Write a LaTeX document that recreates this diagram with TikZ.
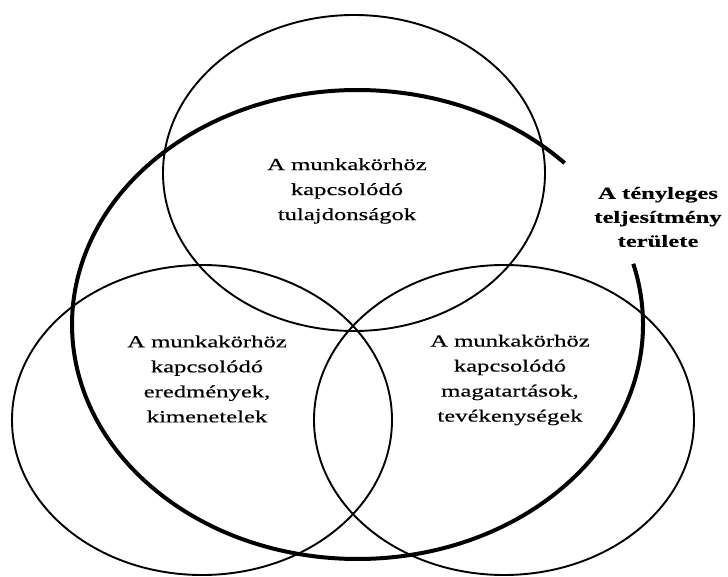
\documentclass[tikz,border=0pt]{standalone}
\usepackage{fontspec}
\setmainfont{Liberation Serif}
\newfontfamily\lblfont[FakeStretch=1.45,FakeBold=0.5]{Liberation Serif}
\newfontfamily\lblbold[FakeStretch=1.45,FakeBold=0.4]{Liberation Serif Bold}
\tikzset{
  thinring/.style={line width=1.9pt, draw=black},
  thickring/.style={line width=4pt, draw=black},
  areatext/.style={align=center, inner sep=0pt, font=\lblfont\fontsize{17}{25}\selectfont},
  boldtext/.style={align=center, inner sep=0pt, font=\lblbold\fontsize{17}{24}\selectfont}
}
\begin{document}
\begin{tikzpicture}[x=1pt,y=1pt]
\useasboundingbox (0,0) rectangle (728,576);
% centres
\coordinate (ctop) at (354,403);
\coordinate (cleft) at (202,156);
\coordinate (cright) at (504,156);
\coordinate (cbig) at (357.5,251.5);
% three thin ellipses
\draw[thinring] (ctop) ellipse [x radius=191, y radius=158];
\draw[thinring] (cleft) ellipse [x radius=190, y radius=155];
\draw[thinring] (cright) ellipse [x radius=190, y radius=155];
% thick open ellipse
\draw[thickring] (cbig) ++(43.5:285.5 and 234.5) arc [start angle=43.5, end angle=375, x radius=285.5, y radius=234.5];
% texts
\node[areatext] (ttop) at (347,385) {A munkakörhöz\\kapcsolódó\\tulajdonságok};
\node[areatext] (tleft) at (207,197) {A munkakörhöz\\kapcsolódó\\eredmények,\\kimenetelek};
\node[areatext] (tright) at (510,196) {A munkakörhöz\\kapcsolódó\\magatartások,\\tevékenységek};
\node[boldtext] (tperf) at (658,359) {A tényleges\\teljesítmény\\területe};
\end{tikzpicture}
\end{document}
